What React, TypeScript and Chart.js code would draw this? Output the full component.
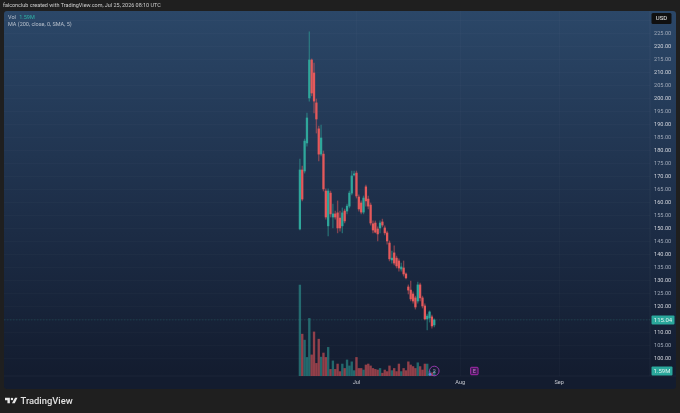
import React, { useEffect, useRef } from "react";
import { Chart, registerables } from "chart.js";

Chart.register(...registerables);

const opens = [150,172.7,172.3,183.1,200.4,215,210,198.5,188.5,178.8,178.8,164.6,151.2,163.8,154.6,155.8,156.2,154.2,151.2,156.9,156.9,158.8,163.8,170.8,171.5,162.3,160,156.5,166.2,161.5,159.2,152,152.3,150,150.4,152.7,150.4,148.5,144.6,138.1,140.8,138.8,137.7,134.6,135,132.7,127.7,126.5,125,123.5,122.3,128.5,123.5,120.4,115.4,115.8,116.2,113.1];
const closes = [172.7,161.5,183.8,192.7,215,202.3,199.2,192.3,178.8,185,165.4,154.6,164.6,155.8,155.8,154.6,150.4,150.4,156.2,153.1,158.8,163.8,170.4,171.2,162.7,157.7,156.5,161.9,160.8,158.8,152.3,149.6,148.8,148.1,152.3,151.5,148.5,145.4,138.5,138.8,136.9,135.8,135,135.4,132.7,131.2,126.5,123.1,122.3,120,128.5,123.5,120.4,115.4,116.5,118.1,112.7,115.04];
const highs = [176.9,174.2,184.6,194.6,225.8,215.4,213.8,200,189.6,190,180,165.4,165.4,164.6,159.6,156.9,160.8,156.9,158.1,157.7,159.6,164.6,172.3,172.3,172.3,163.1,160.8,162.7,166.9,162.7,160,153.1,153.1,150.8,153.1,153.8,151.2,149.2,145.4,141.5,143.5,139.6,138.5,136.9,137.7,133.1,128.5,130,125.8,124.2,129.6,129.2,124.2,121.2,117.3,118.5,116.9,115.4];
const lows = [149.6,160.8,171.5,181.9,199.2,201.2,194.6,186.9,176.2,178.1,164.6,153.8,147.3,154.6,150.4,153.8,148.5,149.2,148.5,152.3,155.8,158.1,163.1,170.4,161.9,156.9,155.8,155.8,158.8,157.7,151.5,148.5,148.5,145.4,148.5,150.8,147.7,144.2,137.7,136.9,136.2,135,133.8,133.8,131.9,130.8,125,122.3,121.5,119.2,121.5,122.3,119.6,115,111.2,114.2,111.9,112.3];
const volumes = [28.9,13.3,11.4,5.9,18.3,6.7,14,4,11.7,6,7.3,5.9,9.1,2.1,4.8,2.1,3.8,1.4,3.8,2.4,5.1,3.2,4.5,1.7,5.9,2.4,2.4,1.9,3.5,3.8,3.2,2.4,2.1,1.9,2.4,0.9,1.9,1.4,3.2,1.7,2.4,1.4,3.8,1.4,2.4,1.7,4.5,3.5,3,2.4,4.2,3,1.9,3.8,3.8,1.4,1,1.59];
const priceTicks = [100,105,110,115,120,125,130,135,140,145,150,155,160,165,170,175,180,185,190,195,200,205,210,215,220,225];
const gridPrices = [...priceTicks, 230];
const monthNames = ["Jul", "Aug", "Sep"];
const monthSlots = [149, 193, 235];
const lastPrice = 115.04;
const lastVolume = "1.59M";
const totalSlots = 274;
const firstSlot = 125;
const splitMarkerBar = 57;
const earningsMarkerBar = 74;

const slotLabels = Array.from({ length: totalSlots }, (_, i) => {
  const m = monthSlots.indexOf(i);
  return m >= 0 ? monthNames[m] : String(i);
});
const pad = (arr: any[]) => [...Array(firstSlot).fill(null), ...arr];
const isUp = opens.map((o, i) => closes[i] >= o);
const candleColors = pad(isUp.map((u) => (u ? "#2fa79b" : "#e4595b")));
const wickColors = pad(isUp.map((u) => (u ? "rgba(47,167,155,0.5)" : "rgba(228,89,91,0.5)")));
const volColors = pad(isUp.map((u) => (u ? "rgba(45,150,145,0.62)" : "rgba(205,80,85,0.68)")));

const UI_FONT = "Roboto, 'Liberation Sans', sans-serif";
const AXIS_W = 30;
const AXIS_H = 37;

function roundRect(ctx: CanvasRenderingContext2D, x: number, y: number, w: number, h: number, r: number) {
  ctx.beginPath();
  ctx.roundRect(x, y, w, h, r);
}

const chrome = {
  id: "chrome",
  beforeDraw(chart: any) {
    const { ctx, chartArea: a } = chart;
    ctx.save();
    const g = ctx.createLinearGradient(0, 11, 0, 376);
    g.addColorStop(0, "#2b4768");
    g.addColorStop(0.55, "#1d2e48");
    g.addColorStop(1, "#131c2f");
    ctx.fillStyle = g;
    roundRect(ctx, 4, 11, 672, 378, 3);
    ctx.fill();
    ctx.strokeStyle = "rgba(255,255,255,0.07)";
    ctx.lineWidth = 0.6;
    ctx.beginPath();
    ctx.moveTo(a.right, a.top);
    ctx.lineTo(a.right, a.bottom);
    ctx.moveTo(a.left, a.bottom);
    ctx.lineTo(a.right + 26, a.bottom);
    ctx.stroke();
    ctx.restore();
  },
  beforeDatasetsDraw(chart: any) {
    const { ctx, chartArea: a, scales } = chart;
    const y = scales.y.getPixelForValue(lastPrice);
    ctx.save();
    ctx.strokeStyle = "rgba(40,170,155,0.32)";
    ctx.lineWidth = 0.6;
    ctx.setLineDash([1.5, 1.5]);
    ctx.beginPath();
    ctx.moveTo(a.left, y);
    ctx.lineTo(a.right, y);
    ctx.stroke();
    ctx.restore();
  },
  afterDraw(chart: any) {
    const { ctx, chartArea: a, scales } = chart;
    ctx.save();
    ctx.textAlign = "center";
    ctx.textBaseline = "middle";

    const badge = (cy: number, text: string, w: number) => {
      ctx.fillStyle = "#2aa89c";
      roundRect(ctx, a.right + 1.5, cy - 4.5, w, 9, 1);
      ctx.fill();
      ctx.fillStyle = "#dff2ef";
      ctx.font = `6px ${UI_FONT}`;
      ctx.fillText(text, a.right + 1.5 + w / 2, cy + 0.3);
    };
    badge(scales.y.getPixelForValue(lastPrice), String(lastPrice), 23);
    badge(scales.yVol.getPixelForValue(1.59), lastVolume, 21);

    ctx.fillStyle = "#101010";
    roundRect(ctx, a.right + 1.5, 13, 20, 11, 1.5);
    ctx.fill();
    ctx.fillStyle = "#eeeeee";
    ctx.font = `6px ${UI_FONT}`;
    ctx.fillText("USD", a.right + 11.5, 18.8);

    const mx = scales.x.getPixelForValue(firstSlot + splitMarkerBar);
    const my = a.bottom - 5;
    ctx.strokeStyle = "#a23bb8";
    ctx.lineWidth = 0.9;
    ctx.beginPath();
    ctx.arc(mx, my, 4.8, 0, Math.PI * 2);
    ctx.stroke();
    ctx.fillStyle = "rgba(200,150,210,0.9)";
    ctx.font = `5.5px ${UI_FONT}`;
    ctx.fillText("2", mx, my + 0.3);
    ctx.fillStyle = "#5f7be0";
    ctx.beginPath();
    ctx.arc(mx - 4.3, a.bottom - 1.6, 1.4, 0, Math.PI * 2);
    ctx.fill();

    const ex = scales.x.getPixelForValue(firstSlot + earningsMarkerBar);
    ctx.strokeStyle = "#b52ab8";
    ctx.lineWidth = 0.9;
    ctx.fillStyle = "rgba(150,30,160,0.35)";
    roundRect(ctx, ex - 3.7, my - 3.7, 7.4, 7.4, 0.8);
    ctx.fill();
    ctx.stroke();
    ctx.fillStyle = "#d680dc";
    ctx.font = `5px ${UI_FONT}`;
    ctx.fillText("E", ex, my + 0.3);
    ctx.restore();
  },
};

export default function App() {
  const ref = useRef<HTMLCanvasElement>(null);
  useEffect(() => {
    const chart = new Chart(ref.current!, {
      type: "bar",
      plugins: [chrome],
      data: {
        labels: slotLabels,
        datasets: [
          {
            label: "Body",
            order: 1,
            yAxisID: "y",
            data: pad(opens.map((o, i) => [Math.min(o, closes[i]), Math.max(o, closes[i])])),
            backgroundColor: candleColors,
            barThickness: 1.6,
            grouped: false,
          } as any,
          {
            label: "Wick",
            order: 2,
            yAxisID: "y",
            data: pad(lows.map((l, i) => [l, highs[i]])),
            backgroundColor: wickColors,
            barThickness: 0.7,
            grouped: false,
          } as any,
          {
            label: "Vol",
            order: 3,
            yAxisID: "yVol",
            data: pad(volumes),
            backgroundColor: volColors,
            barThickness: 1.7,
            grouped: false,
          } as any,
        ],
      },
      options: {
        animation: false,
        responsive: false,
        layout: { padding: { left: 4, top: 11, right: 0, bottom: 0 } },
        plugins: { legend: { display: false }, tooltip: { enabled: false } },
        scales: {
          x: {
            type: "category",
            offset: true,
            grid: { color: "rgba(255,255,255,0.035)", lineWidth: 0.6, drawTicks: false, offset: false },
            border: { display: false },
            ticks: {
              autoSkip: false,
              maxRotation: 0,
              padding: 3,
              color: "#c4c7cf",
              font: { family: UI_FONT, size: 5.6 },
            },
            afterBuildTicks: (s: any) => {
              s.ticks = monthSlots.map((v) => ({ value: v }));
            },
            afterFit: (s: any) => {
              s.height = AXIS_H;
            },
          },
          y: {
            type: "linear",
            position: "right",
            min: 93.46,
            max: 233.84,
            grid: { color: "rgba(255,255,255,0.04)", lineWidth: 0.6, drawTicks: false },
            border: { display: false },
            ticks: {
              padding: 4,
              color: (c: any) => (c.tick && c.tick.value % 10 === 0 ? "#d2d5dc" : "#a0a9b8"),
              font: { family: UI_FONT, size: 5.6 },
              callback: (v: any) => (priceTicks.includes(v) ? Number(v).toFixed(2) : ""),
            },
            afterBuildTicks: (s: any) => {
              s.ticks = gridPrices.map((v) => ({ value: v }));
            },
            afterFit: (s: any) => {
              s.width = AXIS_W;
            },
          },
          yVol: {
            type: "linear",
            display: false,
            min: 0,
            max: 116,
          },
        },
      } as any,
    });
    return () => chart.destroy();
  }, []);

  const text: React.CSSProperties = { position: "absolute", fontFamily: UI_FONT, whiteSpace: "nowrap", lineHeight: 1 };
  return (
    <div style={{ position: "fixed", left: 0, top: 0, width: 680, height: 413, background: "#1f1f1f", overflow: "hidden", filter: "blur(0.3px)" }}>
      <canvas ref={ref} width={680} height={413} style={{ display: "block" }} />
      <div style={{ ...text, left: 3, top: 2.5, fontSize: 5.45, color: "#d0d0d0" }}>
        falconclub created with TradingView.com, Jul 25, 2026 08:10 UTC
      </div>
      <div style={{ ...text, left: 8, top: 15, fontSize: 5.5, color: "#b8c0cc" }}>
        Vol <span style={{ color: "#2fb5a6", marginLeft: 2 }}>1.59M</span>
      </div>
      <div style={{ ...text, left: 8, top: 22, fontSize: 5.5, color: "#b8c0cc" }}>MA (200, close, 0, SMA, 5)</div>
      <svg style={{ position: "absolute", left: 5, top: 396.5 }} width="12.5" height="7" viewBox="0 0 36 20">
        <path d="M0 2h14v16H7V9H0z M29 2h7l-8 16h-8z" fill="#e8e8e8" />
        <circle cx="20" cy="6" r="3.6" fill="#e8e8e8" />
      </svg>
      <div style={{ ...text, left: 20.5, top: 396, fontSize: 9.4, fontWeight: 500, color: "#e2e2e2" }}>
        TradingView
      </div>
    </div>
  );
}
